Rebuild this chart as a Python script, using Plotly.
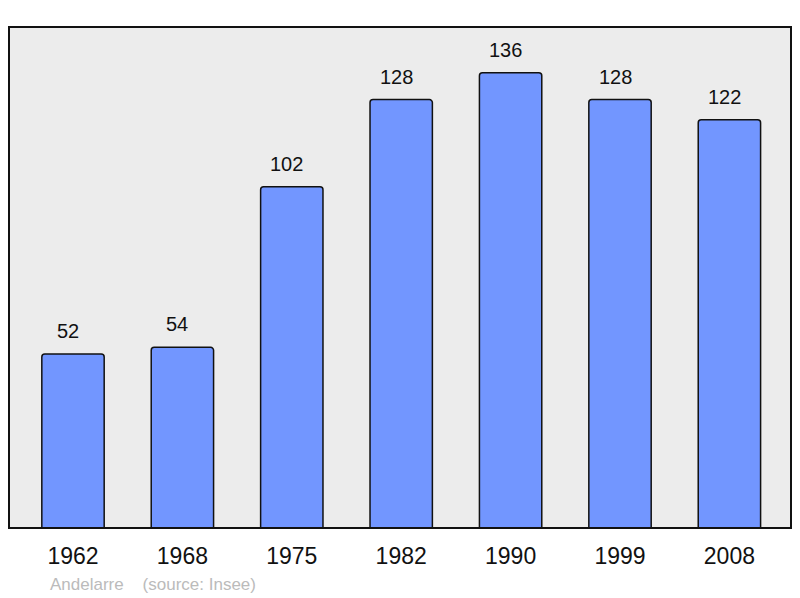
import plotly.graph_objects as go

years = ["1962", "1968", "1975", "1982", "1990", "1999", "2008"]
population = [52, 54, 102, 128, 136, 128, 122]
source_text = "Andelarre    (source: Insee)"

fig = go.Figure()

fig.add_trace(
    go.Bar(
        x=years,
        y=population,
        width=0.57,
        marker=dict(color="#7296ff", line=dict(color="#111111", width=1.5), cornerradius=3),
        hoverinfo="skip",
    )
)

# valeurs au-dessus des barres
for i, val in enumerate(population):
    fig.add_annotation(
        x=i, y=val, text=str(val), showarrow=False,
        yanchor="bottom", yshift=10, xshift=-5,
        font=dict(family="Liberation Sans, Arial", size=20, color="#111111"),
    )

fig.add_annotation(
    xref="paper", yref="paper", x=0.05, y=-0.09, xanchor="left", yanchor="top",
    text=source_text, showarrow=False,
    font=dict(family="Liberation Sans, Arial", size=17, color="#bbbbbb"),
)

# cadre
fig.add_shape(
    type="rect", xref="paper", yref="paper", x0=0, y0=0, x1=1, y1=1,
    line=dict(color="#111111", width=2), layer="above",
)

fig.update_layout(
    width=800, height=598,
    margin=dict(l=9, r=9, t=27, b=70),
    paper_bgcolor="white",
    plot_bgcolor="#ececec",
    showlegend=False,
    xaxis=dict(
        type="category",
        range=[-0.585, 6.563],
        showgrid=False, zeroline=False, ticks="",
        ticklabelstandoff=12,
        tickfont=dict(family="Liberation Sans, Arial", size=23, color="#111111"),
    ),
    yaxis=dict(range=[0, 149.7], visible=False),
)

fig.write_html(
    "out.html",
    config={"displayModeBar": False},
    post_script="document.body.style.margin='0';",
)
